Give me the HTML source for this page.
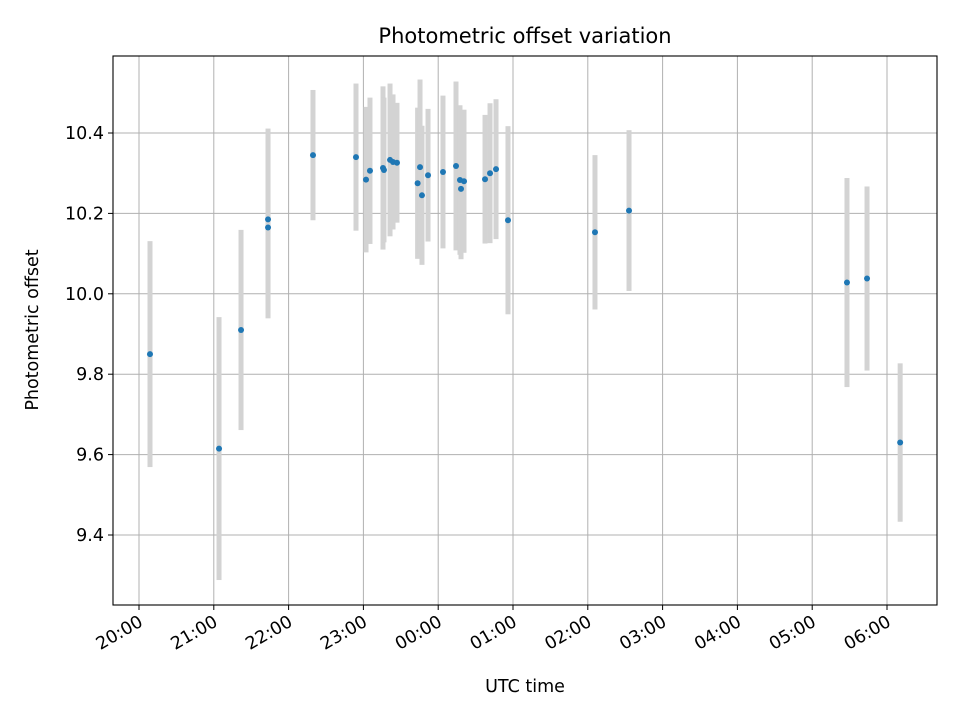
<!DOCTYPE html>
<html><head><meta charset="utf-8"><style>
html,body{margin:0;padding:0;background:#fff;}
svg text{font-family:"DejaVu Sans","Liberation Sans",sans-serif;fill:#000;}
.tt{font-size:21px;}
.lab{font-size:17.5px;}
.tk{font-size:17.5px;}
</style></head><body>
<svg id="chart" width="960" height="720" xmlns="http://www.w3.org/2000/svg">
<rect width="960" height="720" fill="#fff"/>
<g id="grid"></g>
<g id="bars"></g>
<g id="pts"></g>
<rect x="113" y="56" width="824" height="549" fill="none" stroke="#000" stroke-width="1.1"/>
<g id="ticks"></g>
<text class="tt" x="525" y="43" text-anchor="middle">Photometric offset variation</text>
<text class="lab" x="525" y="692" text-anchor="middle">UTC time</text>
<text class="lab" transform="translate(38,330) rotate(-90)" text-anchor="middle">Photometric offset</text>
</svg>
<script>
// hours since 20:00 UTC
const times=[0.147,1.070,1.364,1.725,1.725,2.326,2.901,3.035,3.088,3.262,3.275,3.356,3.396,3.449,3.725,3.757,3.783,3.864,4.064,4.238,4.291,4.305,4.345,4.626,4.693,4.773,4.933,6.096,6.551,9.465,9.733,10.176];
const offsets=[9.850,9.615,9.910,10.165,10.185,10.345,10.340,10.284,10.306,10.313,10.308,10.333,10.328,10.326,10.275,10.315,10.245,10.295,10.303,10.318,10.283,10.261,10.280,10.285,10.300,10.310,10.183,10.153,10.207,10.028,10.038,9.630];
const errors=[0.281,0.327,0.249,0.226,0.226,0.162,0.183,0.181,0.182,0.203,0.180,0.190,0.168,0.149,0.188,0.218,0.173,0.165,0.190,0.210,0.186,0.175,0.178,0.160,0.174,0.174,0.234,0.192,0.200,0.260,0.229,0.197];
const xTickLabels=["20:00","21:00","22:00","23:00","00:00","01:00","02:00","03:00","04:00","05:00","06:00"];
const yTickLabels=["9.4","9.6","9.8","10.0","10.2","10.4"];
const X=h=>139+h*74.8;
const Y=v=>133+(10.4-v)*402;
const NS="http://www.w3.org/2000/svg";
function mk(tag,attrs,parent){const e=document.createElementNS(NS,tag);for(const k in attrs)e.setAttribute(k,attrs[k]);parent.appendChild(e);return e;}
const grid=document.getElementById('grid'),ticks=document.getElementById('ticks'),bars=document.getElementById('bars'),pts=document.getElementById('pts');
xTickLabels.forEach((l,i)=>{
  const x=X(i);
  const g=mk('line',{x1:x,x2:x,y1:56,y2:605,stroke:'#b0b0b0','stroke-width':1},grid);
  
  
  const t=mk('line',{x1:x,x2:x,y1:605,y2:610,stroke:'#000'},ticks);
  
  
  const tx=mk('text',{transform:`translate(${x+5},${625}) rotate(-30)`,'class':'tk','text-anchor':'end'},ticks);
  tx.textContent=l;
  
  
});
yTickLabels.forEach(l=>{
  const y=Y(parseFloat(l));
  const g=mk('line',{x1:113,x2:937,y1:y,y2:y,stroke:'#b0b0b0','stroke-width':1},grid);
  
  
  const t=mk('line',{x1:108,x2:113,y1:y,y2:y,stroke:'#000'},ticks);
  
  
  const tx=mk('text',{x:104,y:y+6,'class':'tk','text-anchor':'end'},ticks);
  tx.textContent=l;
  
  
});
times.forEach((h,i)=>{
  const x=X(h);
  const b=mk('rect',{x:x-2.5,width:5,y:Y(offsets[i]+errors[i]),height:Y(offsets[i]-errors[i])-Y(offsets[i]+errors[i]),fill:'#d3d3d3'},bars);
  
  
  const c=mk('circle',{cx:x,cy:Y(offsets[i]),r:3,fill:'#1f77b4'},pts);
  
  
});
</script>
</body></html>
